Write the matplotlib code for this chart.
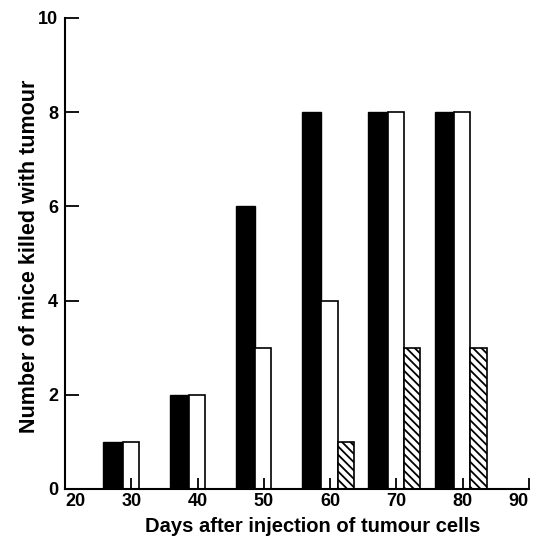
import matplotlib
matplotlib.use("Agg")
import matplotlib.pyplot as plt
import numpy as np

plt.rcParams['font.family'] = ['Liberation Sans', 'DejaVu Sans']
plt.rcParams['hatch.linewidth'] = 1.3

days = [30, 40, 50, 60, 70, 80]
black_vals = [1, 2, 6, 8, 8, 8]
white_vals = [1, 2, 3, 4, 8, 8]
hatch_days = [60, 70, 80]
hatch_vals = [1, 3, 3]
x_ticks = [20, 30, 40, 50, 60, 70, 80, 90]
y_ticks = [0, 2, 4, 6, 8, 10]

fig = plt.figure(figsize=(5.44, 5.37), dpi=100)
ax = fig.add_axes([0.1195, 0.0894, 0.8525, 0.8771])

d = np.array(days, dtype=float)
hd = np.array(hatch_days, dtype=float)
ax.bar(d - 4.2, black_vals, width=2.9, align='edge', color='black', edgecolor='black', linewidth=1)
ax.bar(d - 1.3, white_vals, width=2.45, align='edge', color='white', edgecolor='black', linewidth=1.2)
ax.bar(hd + 1.15, hatch_vals, width=2.5, align='edge', color='white', edgecolor='black',
       linewidth=1.2, hatch='\\\\\\\\')

ax.set_xlim(20, 90)
ax.set_ylim(0, 10)
ax.set_xticks(x_ticks)
ax.set_yticks(y_ticks)
ax.spines['top'].set_visible(False)
ax.spines['right'].set_visible(False)
for s in ['left', 'bottom']:
    ax.spines[s].set_linewidth(1.5)
ax.tick_params(axis='y', direction='in', length=10, width=1.3, labelsize=13, pad=5)
ax.tick_params(axis='x', direction='in', length=8, width=1.3, labelsize=13, pad=3)
for lab in ax.get_xticklabels() + ax.get_yticklabels():
    lab.set_fontweight('bold')
xl = ax.get_xticklabels()
xl[0].set_horizontalalignment('left')
xl[-1].set_horizontalalignment('right')

ax.set_xlabel('Days after injection of tumour cells', fontsize=14.5, fontweight='bold')
ax.xaxis.set_label_coords(0.534, -0.06)
ax.set_ylabel('Number of mice killed with tumour', fontsize=15.5, fontweight='bold')
ax.yaxis.set_label_coords(-0.055, 0.493)

fig.savefig('out.png', dpi=100)
